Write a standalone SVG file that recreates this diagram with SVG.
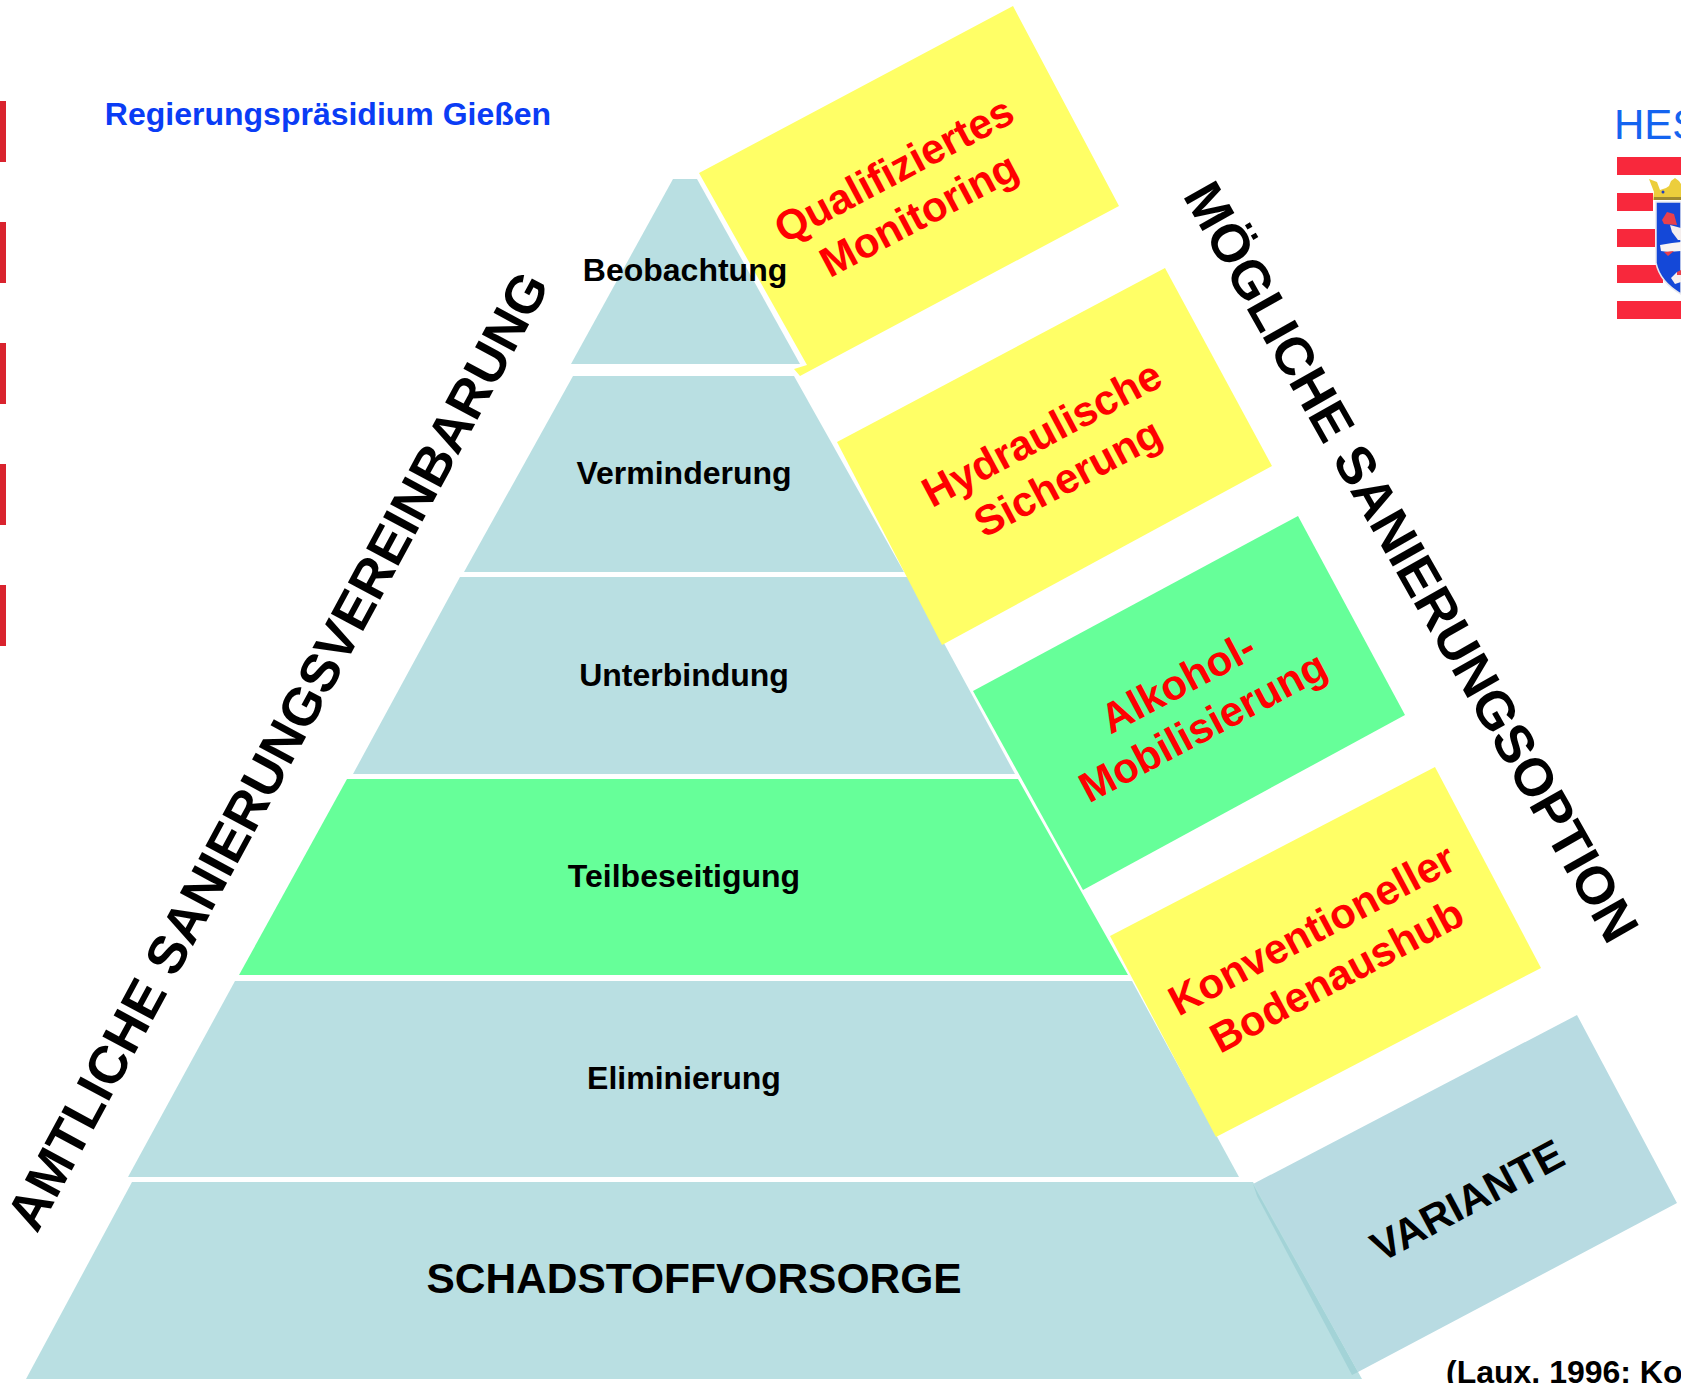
<svg xmlns="http://www.w3.org/2000/svg" width="1681" height="1383" viewBox="0 0 1681 1383">
<style>
text{font-family:"Liberation Sans",Arial,sans-serif;font-weight:700;text-anchor:middle}
.lay{fill:#b9dfe2}.grn{fill:#66ff99}.yel{fill:#ffff66}
.t{font-size:32px;fill:#000}
.r{font-size:42px;fill:#f00}
.big{font-size:53.4px;fill:#000}
.bar{fill:#d9232e}.st{fill:#f8283c}
</style>
<rect width="1681" height="1383" fill="#fff"/>
<g id="side-bars">
<rect class="bar" x="0" y="101" width="6" height="61"/><rect class="bar" x="0" y="222" width="6" height="61"/><rect class="bar" x="0" y="343" width="6" height="61"/><rect class="bar" x="0" y="464" width="6" height="61"/><rect class="bar" x="0" y="585" width="6" height="61"/>
</g>
<g id="header"><text x="328" y="125" style="font-size:32px;fill:#0a3cf5">Regierungspräsidium Gießen</text></g>
<g id="logo">
<text x="1614" y="139" style="font-size:42px;font-weight:400;fill:#1464f0;text-anchor:start">HES</text>
<rect class="st" x="1617" y="157" width="64" height="18"/><rect class="st" x="1617" y="193" width="36" height="18"/><rect class="st" x="1617" y="229" width="38" height="18"/><rect class="st" x="1617" y="265" width="46" height="18"/><rect class="st" x="1617" y="301" width="64" height="18"/>
<path d="M1656 202V263Q1660 282 1681 294V202Z" fill="#1448d8" stroke="#e8e8ee" stroke-width="1.5"/>
<path d="M1649 179L1657 182L1660 190L1666 188L1669 186L1671 181L1675 178L1679 181L1681 184V200H1653L1654 192Z" fill="#ecce3c"/>
<path d="M1654 200H1681V197H1654Z" fill="#a08a30"/>
<circle cx="1663" cy="192" r="1.5" fill="#2040c0"/>
<path d="M1662 220L1667 212L1674 214L1677 225L1664 224Z" fill="#e8404c"/>
<path d="M1670 225L1681 228V240H1678L1672 232Z" fill="#f4eeee"/>
<path d="M1660 245L1672 243L1681 242V251L1668 252L1661 251Z" fill="#f8f4f4"/>
<path d="M1664 252L1674 251L1668 256Z" fill="#e8404c"/>
<path d="M1671 278L1677 272L1681 272V282L1675 284Z" fill="#f6f0f0"/>
<path d="M1677 272L1681 270V275H1677Z" fill="#e8404c"/>
</g>
<g id="variante"><polygon points="1253,1184 1577,1015 1677,1203 1358,1372" fill="#b8dbe2"/><text class="big" transform="translate(1467,1200) rotate(-28)" y="15" style="font-size:42px">VARIANTE</text></g>
<g id="schadstoffvorsorge"><polygon class="lay" points="132,1182 1253,1182 1362,1379 26,1379"/><polygon points="1253,1184 1358,1372 1352,1375 1257,1196" fill="#a3d3d7"/><text x="694" y="1293" style="font-size:42.5px">SCHADSTOFFVORSORGE</text></g>
<g id="eliminierung"><polygon class="lay" points="235,981 1132,981 1239,1177 128,1177"/><text class="t" x="684" y="1089">Eliminierung</text></g>
<g id="teilbeseitigung"><polygon class="grn" points="347,779 1018,779 1128,975 239,975"/><text class="t" x="684" y="887">Teilbeseitigung</text></g>
<g id="unterbindung"><polygon class="lay" points="460,577 908,577 1015,774 353,774"/><text class="t" x="684" y="686">Unterbindung</text></g>
<g id="verminderung"><polygon class="lay" points="573,376 794,376 904,572 464,572"/><text class="t" x="684" y="484">Verminderung</text></g>
<g id="qualifiziertes"><polygon class="yel" points="699,173 1013,6 1119,206 800,376 794,369 807,365"/><text class="r" transform="translate(894,170) rotate(-28)" y="14">Qualifiziertes</text><text class="r" transform="translate(919,215) rotate(-28)" y="14">Monitoring</text></g>
<g id="beobachtung"><polygon class="lay" points="673,179 697,179 800,364 571,364"/><text class="t" x="685" y="281">Beobachtung</text></g>
<g id="hydraulische"><polygon class="yel" points="837,442 1165,268 1272,466 942,645"/><text class="r" transform="translate(1042,434) rotate(-28)" y="14">Hydraulische</text><text class="r" transform="translate(1068,478) rotate(-28)" y="14">Sicherung</text></g>
<g id="alkohol"><polygon class="grn" points="973,691 1298,516 1405,715 1083,890"/><text class="r" transform="translate(1178,683) rotate(-28)" y="14">Alkohol-</text><text class="r" transform="translate(1203,727) rotate(-28)" y="14">Mobilisierung</text></g>
<g id="konventionell"><polygon class="yel" points="1110,936 1435,767 1541,968 1216,1137"/><text class="r" transform="translate(1312,930) rotate(-28)" y="14">Konventioneller</text><text class="r" transform="translate(1337,976) rotate(-28)" y="14">Bodenaushub</text></g>
<g id="labels">
<text class="big" transform="translate(278,751) rotate(-61.6)" y="18">AMTLICHE SANIERUNGSVEREINBARUNG</text>
<text class="big" transform="translate(1411,562) rotate(60.4)" y="18">MÖGLICHE SANIERUNGSOPTION</text>
<text x="1446" y="1383" style="font-size:32px;text-anchor:start">(Laux, 1996; Ko</text>
</g>
<g id="connectors"/>
</svg>
